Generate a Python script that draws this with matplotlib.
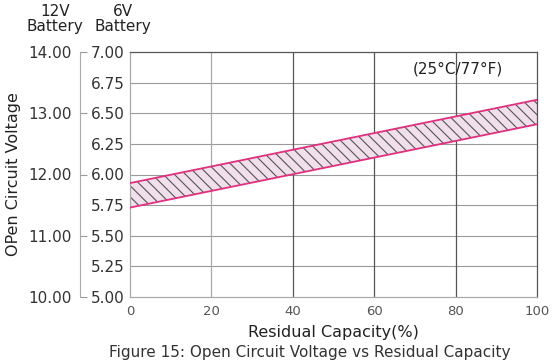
import numpy as np
import matplotlib
matplotlib.use('Agg')
import matplotlib.pyplot as plt

capacity = [0, 100]
upper_6v = [5.93, 6.61]
lower_6v = [5.73, 6.41]

ticks_6v = [5.00, 5.25, 5.50, 5.75, 6.00, 6.25, 6.50, 6.75, 7.00]
ticks_12v = [10.00, 11.00, 12.00, 13.00, 14.00]
ticks_x = [0, 20, 40, 60, 80, 100]

plt.rcParams['hatch.linewidth'] = 0.8

fig = plt.figure(figsize=(5.6, 3.64), dpi=100)
ax = fig.add_axes([130/560, 1-297/364, 407/560, 245/364])

ax.set_xlim(0, 100)
ax.set_ylim(5.0, 7.0)

# grid
for v in ticks_6v[1:-1]:
    ax.axhline(v, color='#9a9a9a', lw=0.8, zorder=1)
for x in ticks_x[1:-1]:
    ax.axvline(x, color='#aaaaaa' if x == 20 else '#555555', lw=0.9, zorder=1)

# band
ax.fill_between(capacity, lower_6v, upper_6v, facecolor='#f1dfeb',
                edgecolor='#555555', hatch='\\\\\\', linewidth=0, zorder=2)
ax.plot(capacity, upper_6v, color='#e0307e', lw=1.3, zorder=3)
ax.plot(capacity, lower_6v, color='#e0307e', lw=1.3, zorder=3)

ax.text(80.5, 6.86, '(25°C/77°F)', fontsize=11, ha='center', va='center', color='#222222')

for s in ['top', 'right']:
    ax.spines[s].set_color('#555555')
for s in ['left', 'bottom']:
    ax.spines[s].set_color('#aaaaaa')
for s in ax.spines.values():
    s.set_linewidth(0.9)

ax.set_yticks(ticks_6v)
ax.set_yticklabels(['%.2f' % v for v in ticks_6v], fontsize=11, color='#333333')
ax.set_xticks(ticks_x)
ax.set_xticklabels([str(x) for x in ticks_x], fontsize=9.5, color='#555555')
ax.tick_params(axis='both', length=0)
ax.tick_params(axis='y', pad=4)
ax.tick_params(axis='x', pad=6)
ax.set_xlabel('Residual Capacity(%)', fontsize=11.5, color='#222222', labelpad=5)

# 12V axis
ax2 = ax.twinx()
ax2.set_ylim(10.0, 14.0)
ax2.yaxis.set_ticks_position('left')
ax2.yaxis.set_label_position('left')
ax2.spines['left'].set_position(('outward', 36))
ax2.spines['left'].set_color('#aaaaaa')
ax2.spines['left'].set_visible(True)
for s in ['top', 'right', 'bottom']:
    ax2.spines[s].set_visible(False)
ax2.set_yticks(ticks_12v)
ax2.set_yticklabels(['%.2f' % v for v in ticks_12v], fontsize=11, color='#333333')
ax2.tick_params(axis='y', direction='in', length=5, color='#999999', pad=6)
ax2.set_ylabel('OPen Circuit Voltage', fontsize=11.5, color='#222222', labelpad=5)

fig.text(55/560, 1-19/364, '12V\nBattery', ha='center', va='center', fontsize=11,
         color='#222222', linespacing=1.05)
fig.text(123/560, 1-19/364, '6V\nBattery', ha='center', va='center', fontsize=11,
         color='#222222', linespacing=1.05)
fig.text(310/560, 1-352/364, 'Figure 15: Open Circuit Voltage vs Residual Capacity',
         ha='center', va='center', fontsize=11, color='#333333')

fig.savefig('out.png', dpi=100, facecolor='white')
